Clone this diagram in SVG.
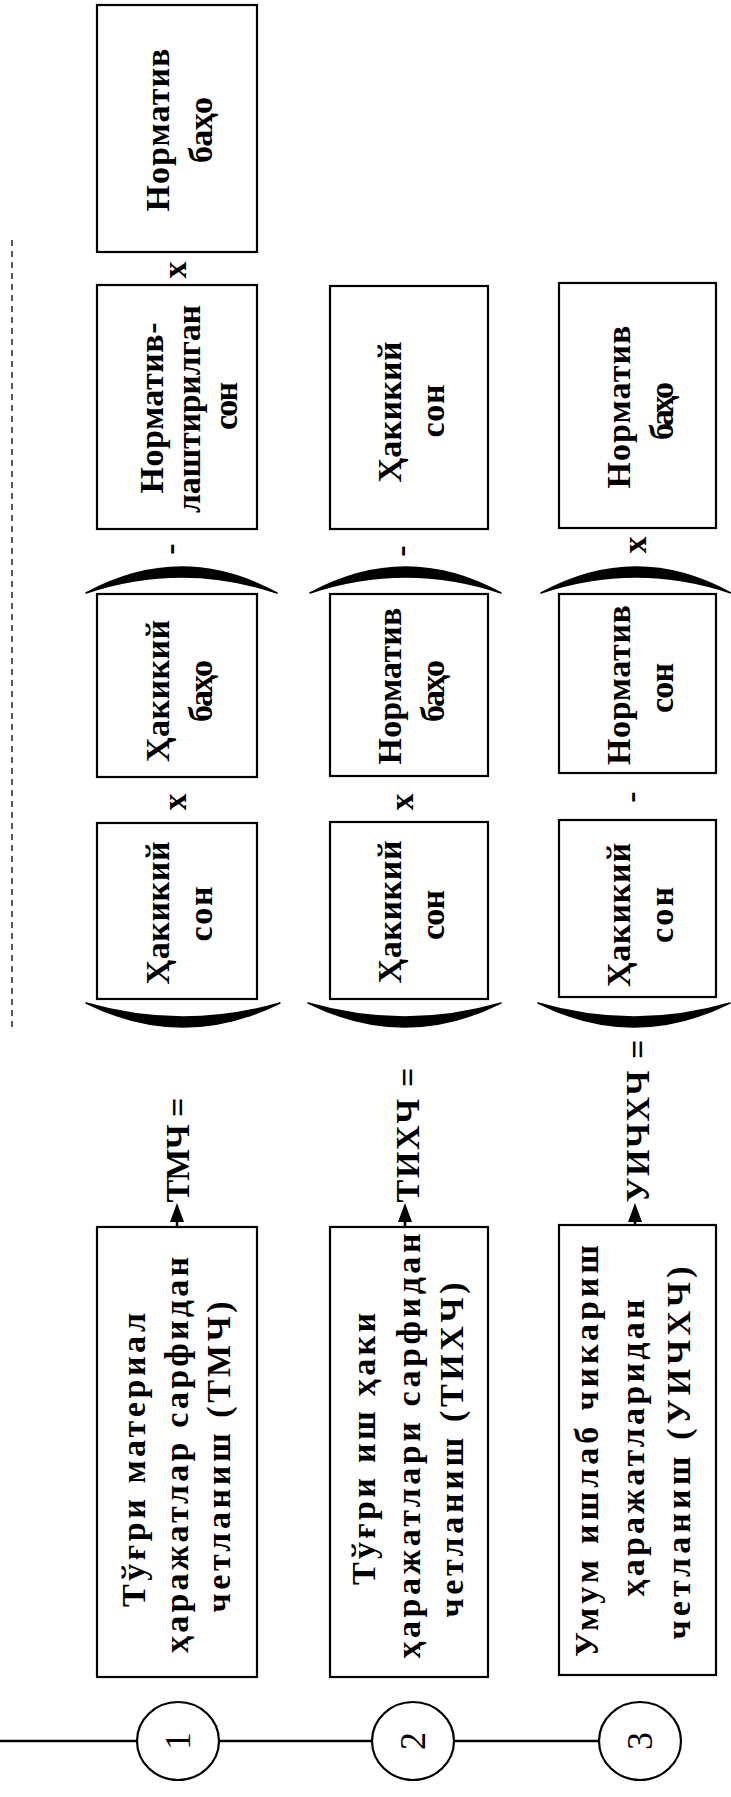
<svg xmlns="http://www.w3.org/2000/svg" width="731" height="1797" viewBox="0 0 731 1797">
<style>
.box{fill:#fff;stroke:#000;stroke-width:2.2}
.t{font-family:"Liberation Serif","DejaVu Serif",serif;font-weight:bold;font-size:34px;text-anchor:middle;fill:#000}
.num{font-family:"Liberation Serif","DejaVu Serif",serif;font-size:36px;text-anchor:middle;fill:#000}
.ln{stroke:#000;stroke-width:2.5;fill:none}
.brk{fill:#000;stroke:#000;stroke-width:1.5;stroke-linejoin:round}
.circ{fill:#fff;stroke:#000;stroke-width:2.2}
.ah{fill:#000}
</style>
<rect width="731" height="1797" fill="#fff"/>

<g id="connectors">
  <line class="ln" x1="0" y1="1741" x2="137" y2="1741"/>
  <line class="ln" x1="219" y1="1741" x2="372" y2="1741"/>
  <line class="ln" x1="454" y1="1741" x2="599" y2="1741"/>
  <line x1="12" y1="240" x2="12" y2="1027" stroke="#000" stroke-width="1.3" stroke-dasharray="6 5"/>
  <line class="ln" x1="177" y1="1227" x2="177" y2="1214"/>
  <polygon class="ah" points="177,1203 170,1222 184,1222"/>
  <line class="ln" x1="405" y1="1227" x2="405" y2="1214"/>
  <polygon class="ah" points="405,1203 398,1222 412,1222"/>
  <line class="ln" x1="635" y1="1225" x2="635" y2="1214"/>
  <polygon class="ah" points="635,1203 628,1222 642,1222"/>
</g>

<g id="brackets">
  <path class="brk" d="M 86 1003 Q 183 1051 280 1003 Q 183 1031 86 1003 Z"/>
  <path class="brk" d="M 308 1003 Q 405 1051 501 1003 Q 405 1031 308 1003 Z"/>
  <path class="brk" d="M 538 1003 Q 634 1051 730 1003 Q 634 1031 538 1003 Z"/>
  <path class="brk" d="M 86 593 Q 182 541 277 593 Q 182 561 86 593 Z"/>
  <path class="brk" d="M 310 593 Q 406 541 501 593 Q 406 561 310 593 Z"/>
  <path class="brk" d="M 541 593 Q 636 541 731 593 Q 636 561 541 593 Z"/>
</g>

<g id="operators">
  <text class="t" transform="translate(186,270) rotate(-90)">x</text>
  <text class="t" transform="translate(181,549) rotate(-90)">-</text>
  <text class="t" transform="translate(186,802) rotate(-90)">x</text>
  <text class="t" transform="translate(412,551) rotate(-90)">-</text>
  <text class="t" transform="translate(413,802) rotate(-90)">x</text>
  <text class="t" transform="translate(646,545) rotate(-90)">x</text>
  <text class="t" transform="translate(642,797) rotate(-90)">-</text>
  <text class="t" transform="translate(189,1150) rotate(-90)" textLength="105">ТМЧ =</text>
  <text class="t" transform="translate(419,1135) rotate(-90)" textLength="135">ТИХЧ =</text>
  <text class="t" transform="translate(649,1121) rotate(-90)" textLength="163">УИЧХЧ =</text>
</g>

<g id="n1_baho">
  <rect class="box" x="97" y="5" width="160" height="247"/>
  <text class="t" transform="translate(169,130) rotate(-90)" textLength="163">Норматив</text>
  <text class="t" transform="translate(212,130) rotate(-90)" textLength="66">баҳо</text>
</g>
<g id="n1_normson">
  <rect class="box" x="97" y="285" width="160" height="244"/>
  <text class="t" transform="translate(163,408) rotate(-90)" textLength="171">Норматив-</text>
  <text class="t" transform="translate(200,409) rotate(-90)" textLength="208">лаштирилган</text>
  <text class="t" transform="translate(237,406) rotate(-90)" textLength="48">сон</text>
</g>
<g id="n1_haqbaho">
  <rect class="box" x="97" y="594" width="160" height="183"/>
  <text class="t" transform="translate(169,691) rotate(-90)" textLength="142">Ҳакикий</text>
  <text class="t" transform="translate(212,691) rotate(-90)" textLength="62">баҳо</text>
</g>
<g id="n1_haqson">
  <rect class="box" x="97" y="823" width="160" height="176"/>
  <text class="t" transform="translate(169,913) rotate(-90)" textLength="143">Ҳакикий</text>
  <text class="t" transform="translate(212,914) rotate(-90)" textLength="55">сон</text>
</g>
<g id="n1_tmch">
  <rect class="box" x="97" y="1227" width="160" height="450"/>
  <text class="t" transform="translate(145,1460) rotate(-90)" textLength="294">Тўғри материал</text>
  <text class="t" transform="translate(188,1455) rotate(-90)" textLength="396">ҳаражатлар сарфидан</text>
  <text class="t" transform="translate(230,1457) rotate(-90)" textLength="311">четланиш (ТМЧ)</text>
</g>

<g id="n2_haqson_top">
  <rect class="box" x="330" y="286" width="158" height="243"/>
  <text class="t" transform="translate(401,412) rotate(-90)" textLength="141">Ҳакикий</text>
  <text class="t" transform="translate(444,411) rotate(-90)" textLength="53">сон</text>
</g>
<g id="n2_normbaho">
  <rect class="box" x="330" y="594" width="158" height="182"/>
  <text class="t" transform="translate(401,686) rotate(-90)" textLength="157">Норматив</text>
  <text class="t" transform="translate(444,691) rotate(-90)" textLength="62">баҳо</text>
</g>
<g id="n2_haqson">
  <rect class="box" x="330" y="822" width="158" height="177"/>
  <text class="t" transform="translate(401,912) rotate(-90)" textLength="143">Ҳакикий</text>
  <text class="t" transform="translate(444,915) rotate(-90)" textLength="50">сон</text>
</g>
<g id="n2_tihch">
  <rect class="box" x="330" y="1227" width="158" height="450"/>
  <text class="t" transform="translate(375,1449) rotate(-90)" textLength="272">Тўғри иш ҳаки</text>
  <text class="t" transform="translate(420,1446) rotate(-90)" textLength="425">ҳаражатлари сарфидан</text>
  <text class="t" transform="translate(463,1450) rotate(-90)" textLength="335">четланиш (ТИХЧ)</text>
</g>

<g id="n3_normbaho_top">
  <rect class="box" x="559" y="283" width="157" height="245"/>
  <text class="t" transform="translate(630,407) rotate(-90)" textLength="163">Норматив</text>
  <text class="t" transform="translate(673,411) rotate(-90)" textLength="58">баҳо</text>
</g>
<g id="n3_normson">
  <rect class="box" x="559" y="594" width="157" height="179"/>
  <text class="t" transform="translate(630,685) rotate(-90)" textLength="160">Норматив</text>
  <text class="t" transform="translate(673,688) rotate(-90)" textLength="50">сон</text>
</g>
<g id="n3_haqson">
  <rect class="box" x="559" y="820" width="157" height="177"/>
  <text class="t" transform="translate(630,915) rotate(-90)" textLength="144">Ҳакикий</text>
  <text class="t" transform="translate(673,915) rotate(-90)" textLength="56">сон</text>
</g>
<g id="n3_uichhch">
  <rect class="box" x="559" y="1225" width="157" height="450"/>
  <text class="t" transform="translate(598,1451) rotate(-90)" textLength="412">Умум ишлаб чикариш</text>
  <text class="t" transform="translate(644,1448) rotate(-90)" textLength="297">ҳаражатларидан</text>
  <text class="t" transform="translate(690,1453) rotate(-90)" textLength="373">четланиш (УИЧХЧ)</text>
</g>

<g id="c1">
  <ellipse class="circ" cx="178" cy="1741" rx="41" ry="39"/>
  <text class="num" transform="translate(190,1741) rotate(-90)">1</text>
</g>
<g id="c2">
  <ellipse class="circ" cx="413" cy="1741" rx="41" ry="39"/>
  <text class="num" transform="translate(425,1741) rotate(-90)">2</text>
</g>
<g id="c3">
  <ellipse class="circ" cx="640" cy="1741" rx="41" ry="39"/>
  <text class="num" transform="translate(652,1741) rotate(-90)">3</text>
</g>
</svg>
